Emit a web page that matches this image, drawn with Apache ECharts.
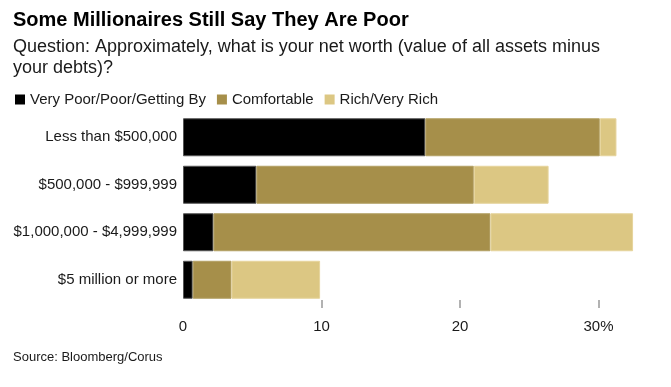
<!DOCTYPE html>
<html><head><meta charset="utf-8">
<script src="https://cdn.jsdelivr.net/npm/echarts@6/dist/echarts.min.js"></script>
<style>html,body{margin:0;padding:0;background:#fff}#c{width:671px;height:387px}</style>
</head><body><div id="c"></div>
<script>
const categories = ['Less than $500,000', '$500,000 - $999,999', '$1,000,000 - $4,999,999', '$5 million or more'];
const seriesNames = ['Very Poor/Poor/Getting By', 'Comfortable', 'Rich/Very Rich'];
const poorValues = [17.5, 5.3, 2.2, 0.7];
const comfortableValues = [12.6, 15.7, 20.0, 2.8];
const richValues = [1.2, 5.4, 10.3, 6.4];
const tickValues = [10, 20, 30];
const labelValues = [0, 10, 20, 30];
const colors = ['#000000', '#a68f4a', '#dcc783'];
const borders = ['#555555', '#b3a064', '#e6d49c'];
const FONT = "'Liberation Sans', Arial, sans-serif";

const chart = echarts.init(document.getElementById('c'), null, {renderer: 'canvas'});
const dataArr = [poorValues, comfortableValues, richValues];
chart.setOption({
  animation: false,
  textStyle: {fontFamily: FONT},
  title: [
    {text: 'Some Millionaires Still Say They Are Poor', left: 8, top: 5,
     textStyle: {fontFamily: FONT, fontSize: 20, fontWeight: 'bold', color: '#000'}},
    {text: 'Question: Approximately, what is your net worth (value of all assets minus\nyour debts)?', left: 8, top: 32,
     textStyle: {fontFamily: FONT, fontSize: 18, fontWeight: 'normal', color: '#1a1a1a', lineHeight: 21}},
    {text: 'Source: Bloomberg/Corus', left: 8, top: 346,
     textStyle: {fontFamily: FONT, fontSize: 13, fontWeight: 'normal', color: '#1a1a1a'}}
  ],
  legend: {
    left: 10, top: 87, icon: 'rect', itemWidth: 10, itemHeight: 10, itemGap: 11,
    itemStyle: {borderWidth: 0},
    textStyle: {fontFamily: FONT, fontSize: 15, color: '#1a1a1a'},
    data: seriesNames
  },
  grid: {left: 183, right: 31, top: 113.5, bottom: 83.5, containLabel: false},
  xAxis: {
    type: 'value', min: 0, max: 33, interval: 10, offset: -3.5,
    splitLine: {show: false},
    axisLine: {show: false},
    axisTick: {show: true, customValues: tickValues, length: 8, lineStyle: {color: '#999', width: 1.5}},
    axisLabel: {customValues: labelValues, margin: 19, fontSize: 15, color: '#1a1a1a', fontFamily: FONT,
      formatter: v => v === 30 ? '30%' : String(v)}
  },
  yAxis: {
    type: 'category', data: categories, inverse: true,
    axisLine: {show: false}, axisTick: {show: false},
    axisLabel: {fontSize: 15, color: '#1a1a1a', margin: 6, fontFamily: FONT}
  },
  series: seriesNames.map((n, i) => ({
    name: n, type: 'bar', stack: 'total', data: dataArr[i],
    barCategoryGap: '20%',
    itemStyle: {color: colors[i], borderColor: borders[i], borderWidth: 1}
  }))
});
</script></body></html>
